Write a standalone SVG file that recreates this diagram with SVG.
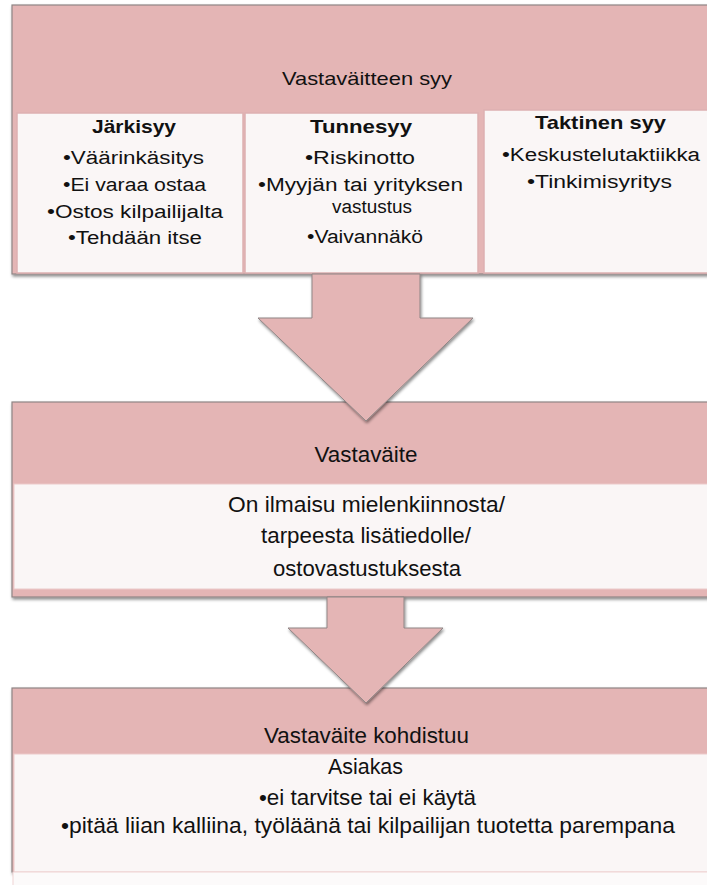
<svg xmlns="http://www.w3.org/2000/svg" width="707" height="885" viewBox="0 0 707 885">
<defs>
<filter id="sh" x="-5%" y="-5%" width="115%" height="120%">
<feDropShadow dx="1" dy="2" stdDeviation="1.5" flood-color="#000" flood-opacity="0.45"/>
</filter>
</defs>
<style>
.box{fill:#E4B5B5;stroke:#8F8585;stroke-width:1.2}
.cell{fill:#FAF6F6;stroke:#DDB0B1;stroke-width:1.5}
.arrow{fill:#E4B5B5;stroke:#8F8585;stroke-width:1}
text{font-family:"Liberation Sans",Arial,sans-serif;fill:#111;text-anchor:middle}
.t18{font-size:18px}
.b{font-size:19px;font-weight:bold}
.t19{font-size:19px}
.t22{font-size:22px}
</style>
<rect x="0" y="0" width="707" height="885" fill="#FFFFFF"/>

<g id="node-syy">
<rect class="box" x="12" y="5" width="710" height="269" filter="url(#sh)"/>
<text class="t19" x="367" y="85" textLength="170" lengthAdjust="spacingAndGlyphs">Vastaväitteen syy</text>
</g>
<g id="node-jarkisyy">
<rect class="cell" x="17" y="113" width="226" height="160"/>
<text class="b" x="134" y="133" textLength="84" lengthAdjust="spacingAndGlyphs">Järkisyy</text>
<text class="t18" x="133.5" y="164" textLength="141" lengthAdjust="spacingAndGlyphs">•Väärinkäsitys</text>
<text class="t18" x="134.5" y="191" textLength="143" lengthAdjust="spacingAndGlyphs">•Ei varaa ostaa</text>
<text class="t18" x="135" y="218" textLength="176" lengthAdjust="spacingAndGlyphs">•Ostos kilpailijalta</text>
<text class="t18" x="135" y="244" textLength="134" lengthAdjust="spacingAndGlyphs">•Tehdään itse</text>
</g>
<g id="node-tunnesyy">
<rect class="cell" x="245" y="113" width="233" height="160"/>
<text class="b" x="361" y="133" textLength="102" lengthAdjust="spacingAndGlyphs">Tunnesyy</text>
<text class="t18" x="360" y="164" textLength="110" lengthAdjust="spacingAndGlyphs">•Riskinotto</text>
<text class="t18" x="360.5" y="191" textLength="205" lengthAdjust="spacingAndGlyphs">•Myyjän tai yrityksen</text>
<text class="t18" x="372" y="213" textLength="80" lengthAdjust="spacingAndGlyphs">vastustus</text>
<text class="t18" x="365" y="243" textLength="116" lengthAdjust="spacingAndGlyphs">•Vaivannäkö</text>
</g>
<g id="node-taktinen">
<rect class="cell" x="484" y="110" width="234" height="163"/>
<text class="b" x="600.5" y="129" textLength="131" lengthAdjust="spacingAndGlyphs">Taktinen syy</text>
<text class="t18" x="601" y="161" textLength="198" lengthAdjust="spacingAndGlyphs">•Keskustelutaktiikka</text>
<text class="t18" x="599.5" y="188" textLength="145" lengthAdjust="spacingAndGlyphs">•Tinkimisyritys</text>
</g>

<g id="node-vastavaite">
<rect class="box" x="12" y="402" width="710" height="195" filter="url(#sh)"/>
<rect x="14" y="484" width="708" height="105" fill="#FAF6F6" stroke="#EBCACA" stroke-width="1"/>
<text class="t22" x="366" y="462" textLength="103" lengthAdjust="spacingAndGlyphs">Vastaväite</text>
<text class="t22" x="366.5" y="512" textLength="277" lengthAdjust="spacingAndGlyphs">On ilmaisu mielenkiinnosta/</text>
<text class="t22" x="366" y="543" textLength="210" lengthAdjust="spacingAndGlyphs">tarpeesta lisätiedolle/</text>
<text class="t22" x="367" y="576" textLength="188" lengthAdjust="spacingAndGlyphs">ostovastustuksesta</text>
</g>

<g id="node-kohdistuu">
<rect class="box" x="12" y="688" width="710" height="184" filter="url(#sh)"/>
<rect x="14" y="754" width="708" height="118" fill="#FAF6F6" stroke="#EBCACA" stroke-width="1"/>
<rect x="13" y="872" width="709" height="14" fill="#FCFAFA" stroke="#F0D4D4" stroke-width="1"/>
<text class="t22" x="366.5" y="743" textLength="205" lengthAdjust="spacingAndGlyphs">Vastaväite kohdistuu</text>
<text class="t22" x="365.5" y="774" textLength="75" lengthAdjust="spacingAndGlyphs">Asiakas</text>
<text class="t22" x="367.5" y="805" textLength="217" lengthAdjust="spacingAndGlyphs">•ei tarvitse tai ei käytä</text>
<text class="t22" x="368" y="833" textLength="614" lengthAdjust="spacingAndGlyphs">•pitää liian kalliina, työläänä tai kilpailijan tuotetta parempana</text>
</g>

<g id="connectors">
<polygon class="arrow" filter="url(#sh)" points="312,274 420,274 420,318 473,318 366,421 258,318 312,318"/>
<polygon class="arrow" filter="url(#sh)" points="327,597 404,597 404,628 443,628 366,703 288,628 327,628"/>
</g>
</svg>
